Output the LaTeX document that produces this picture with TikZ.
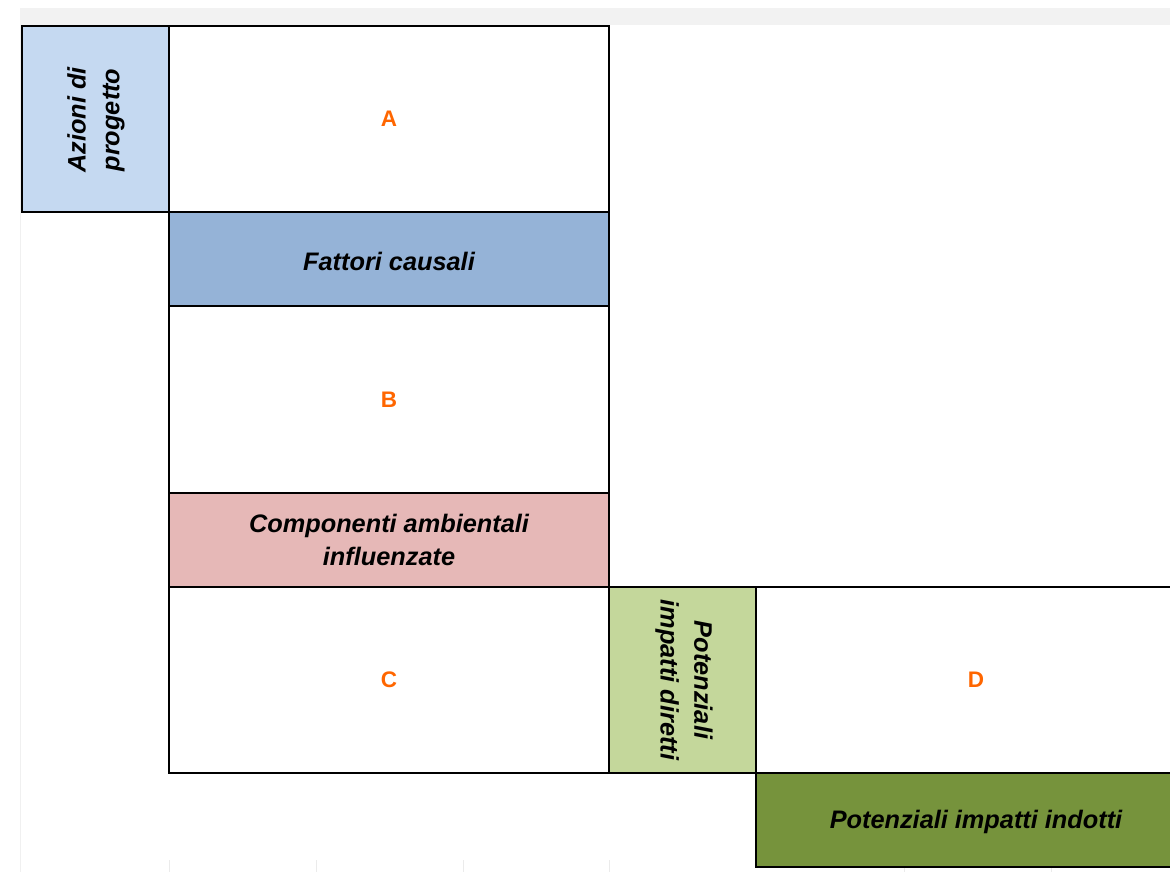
\documentclass[tikz,border=0pt]{standalone}
\usepackage{fontspec}
\setmainfont{Liberation Sans}

\definecolor{azioniblue}{HTML}{C5D9F1}
\definecolor{fattoriblue}{HTML}{95B3D7}
\definecolor{componentipink}{HTML}{E6B8B7}
\definecolor{direttigreen}{HTML}{C4D79B}
\definecolor{indottigreen}{HTML}{76933C}
\definecolor{letterorange}{HTML}{FF6600}
\definecolor{bandgray}{HTML}{F2F2F2}

\begin{document}
\begin{tikzpicture}[x=0.025cm,y=-0.025cm,
  cell/.style={draw=black,line width=1.4pt},
  label/.style={align=center,font=\bfseries\itshape\fontsize{18}{24}\selectfont},
  letter/.style={text=letterorange,font=\bfseries\fontsize{16}{18}\selectfont}]
  \useasboundingbox (0,0) rectangle (1170,872);
  \clip (0,0) rectangle (1170,872);
  \fill[bandgray] (20,8) rectangle (1170,25);
  \draw[black!6] (20,25) -- (20,872);
  \foreach \x in {169,316,463,609,904,1051}
    \draw[black!8] (\x,860) -- (\x,872);

  \draw[cell,fill=azioniblue] (22,26) rectangle (169,212);
  \draw[cell] (169,26) rectangle (609,212);
  \draw[cell,fill=fattoriblue] (169,212) rectangle (609,306);
  \draw[cell] (169,306) rectangle (609,493);
  \draw[cell,fill=componentipink] (169,493) rectangle (609,587);
  \draw[cell] (169,587) rectangle (609,773);
  \draw[cell,fill=direttigreen] (609,587) rectangle (756,773);
  \draw[cell] (756,587) rectangle (1180,773);
  \draw[cell,fill=indottigreen] (756,773) rectangle (1180,867);

  \node[label,rotate=90] (azioni) at (96,120) {Azioni di\\progetto};
  \node[letter] (a) at (389,119) {A};
  \node[label] (fattori) at (389,261) {Fattori causali};
  \node[letter] (b) at (389,400) {B};
  \node[label] (componenti) at (389,540) {Componenti ambientali\\influenzate};
  \node[letter] (c) at (389,680) {C};
  \node[label,rotate=-90] (diretti) at (684,680) {Potenziali\\impatti diretti};
  \node[letter] (d) at (976,680) {D};
  \node[label] (indotti) at (976,822) {Potenziali impatti indotti};
\end{tikzpicture}
\end{document}
